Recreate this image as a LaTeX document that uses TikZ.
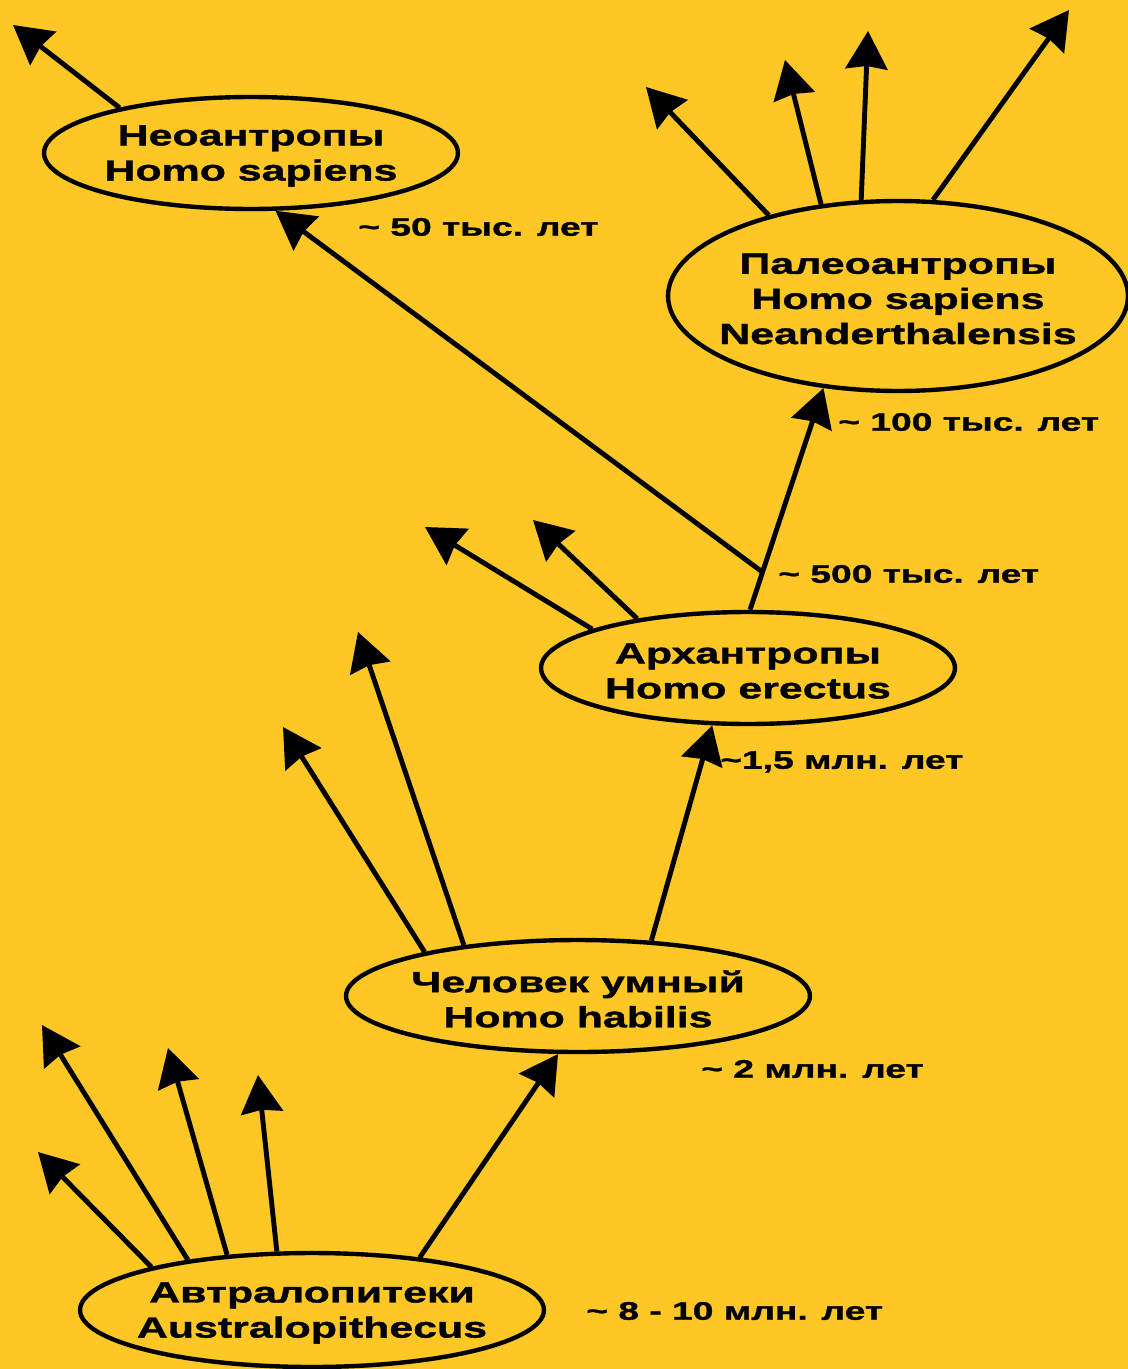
\documentclass[tikz,border=0pt]{standalone}
\usepackage{fontspec}
\newfontfamily\wfont{Liberation Sans}[FakeStretch=1.47,FakeBold=1.3]
\usetikzlibrary{arrows.meta,shapes.geometric}
\definecolor{bg}{RGB}{253,199,38}
\newcommand{\tld}{\char"007E}
\begin{document}
\begin{tikzpicture}[x=0.02cm,y=-0.02cm,
  oval/.style={ellipse,draw=black,line width=2.5pt,inner sep=0pt},
  txt/.style={align=center,inner sep=0pt,yshift=-0.06cm,font=\wfont\bfseries\fontsize{16.6}{20}\selectfont},
  arr/.style={line width=2.8pt,-{Stealth[length=0.76cm,width=0.84cm,inset=0.06cm]}},
  lbl/.style={anchor=west,inner sep=0pt,font=\wfont\bfseries\fontsize{14.4}{17}\selectfont}]
\useasboundingbox (0,0) rectangle (1128,1369);
\fill[bg] (0,0) rectangle (1128,1369);

% nodes
\node[oval,minimum width=8.28cm,minimum height=2.24cm,
  label={[txt]center:{Неоантропы\\Homo sapiens}}] (neo) at (251,153) {};
\node[oval,minimum width=9.2cm,minimum height=3.8cm,
  label={[txt]center:{Палеоантропы\\Homo sapiens\\Neanderthalensis}}] (pal) at (898,296) {};
\node[oval,minimum width=8.28cm,minimum height=2.24cm,
  label={[txt]center:{Архантропы\\Homo erectus}}] (arch) at (748,668) {};
\node[oval,minimum width=9.28cm,minimum height=2.24cm,
  label={[txt]center:{Человек умный\\Homo habilis}}] (hab) at (578,996) {};
\node[oval,minimum width=9.28cm,minimum height=2.28cm,
  label={[txt]center:{Автралопитеки\\Australopithecus}}] (aus) at (312,1310) {};

% free arrow ends
\coordinate (n1) at (13,25);
\coordinate (p1) at (646,87);
\coordinate (p2) at (785,60);
\coordinate (p3) at (868,31);
\coordinate (p4) at (1069,10);
\coordinate (a1) at (425,527);
\coordinate (a2) at (533,520);
\coordinate (h1) at (283,727);
\coordinate (h2) at (358,632);
\coordinate (u1) at (38,1152);
\coordinate (u2) at (42,1025);
\coordinate (u3) at (168,1048);
\coordinate (u4) at (258,1075);

% main lineage
\draw[arr] (aus.26) -- (hab.251);
\draw[arr] (hab.37) -- (arch.238);
\draw[arr] (arch.88) -- coordinate[pos=0.17] (j) (pal.231);
\draw[arr] (j) -- (neo.293);

% side branches
\draw[arr] (neo.161) -- (n1);
\draw[arr] (pal.148) -- (p1);
\draw[arr] (pal.130) -- (p2);
\draw[arr] (pal.111) -- (p3);
\draw[arr] (pal.70) -- (p4);
\draw[arr] (arch.166) -- (a1);
\draw[arr] (arch.156) -- (a2);
\draw[arr] (hab.164) -- (h1);
\draw[arr] (hab.156) -- (h2);
\draw[arr] (aus.165) -- (u1);
\draw[arr] (aus.158) -- (u2);
\draw[arr] (aus.147) -- (u3);
\draw[arr] (aus.121) -- (u4);

% time labels
\node[lbl] (l50) at (358,227) {\tld\ 50 тыс. лет};
\node[lbl] (l100) at (838,422) {\tld\ 100 тыс. лет};
\node[lbl] (l500) at (778,574) {\tld\ 500 тыс. лет};
\node[lbl] (l15) at (720,762) {\tld{}1,5 млн. лет};
\node[lbl] (l2) at (701,1069) {\tld\ 2 млн. лет};
\node[lbl] (l810) at (586,1311) {\tld\ 8 - 10 млн. лет};
\end{tikzpicture}
\end{document}
